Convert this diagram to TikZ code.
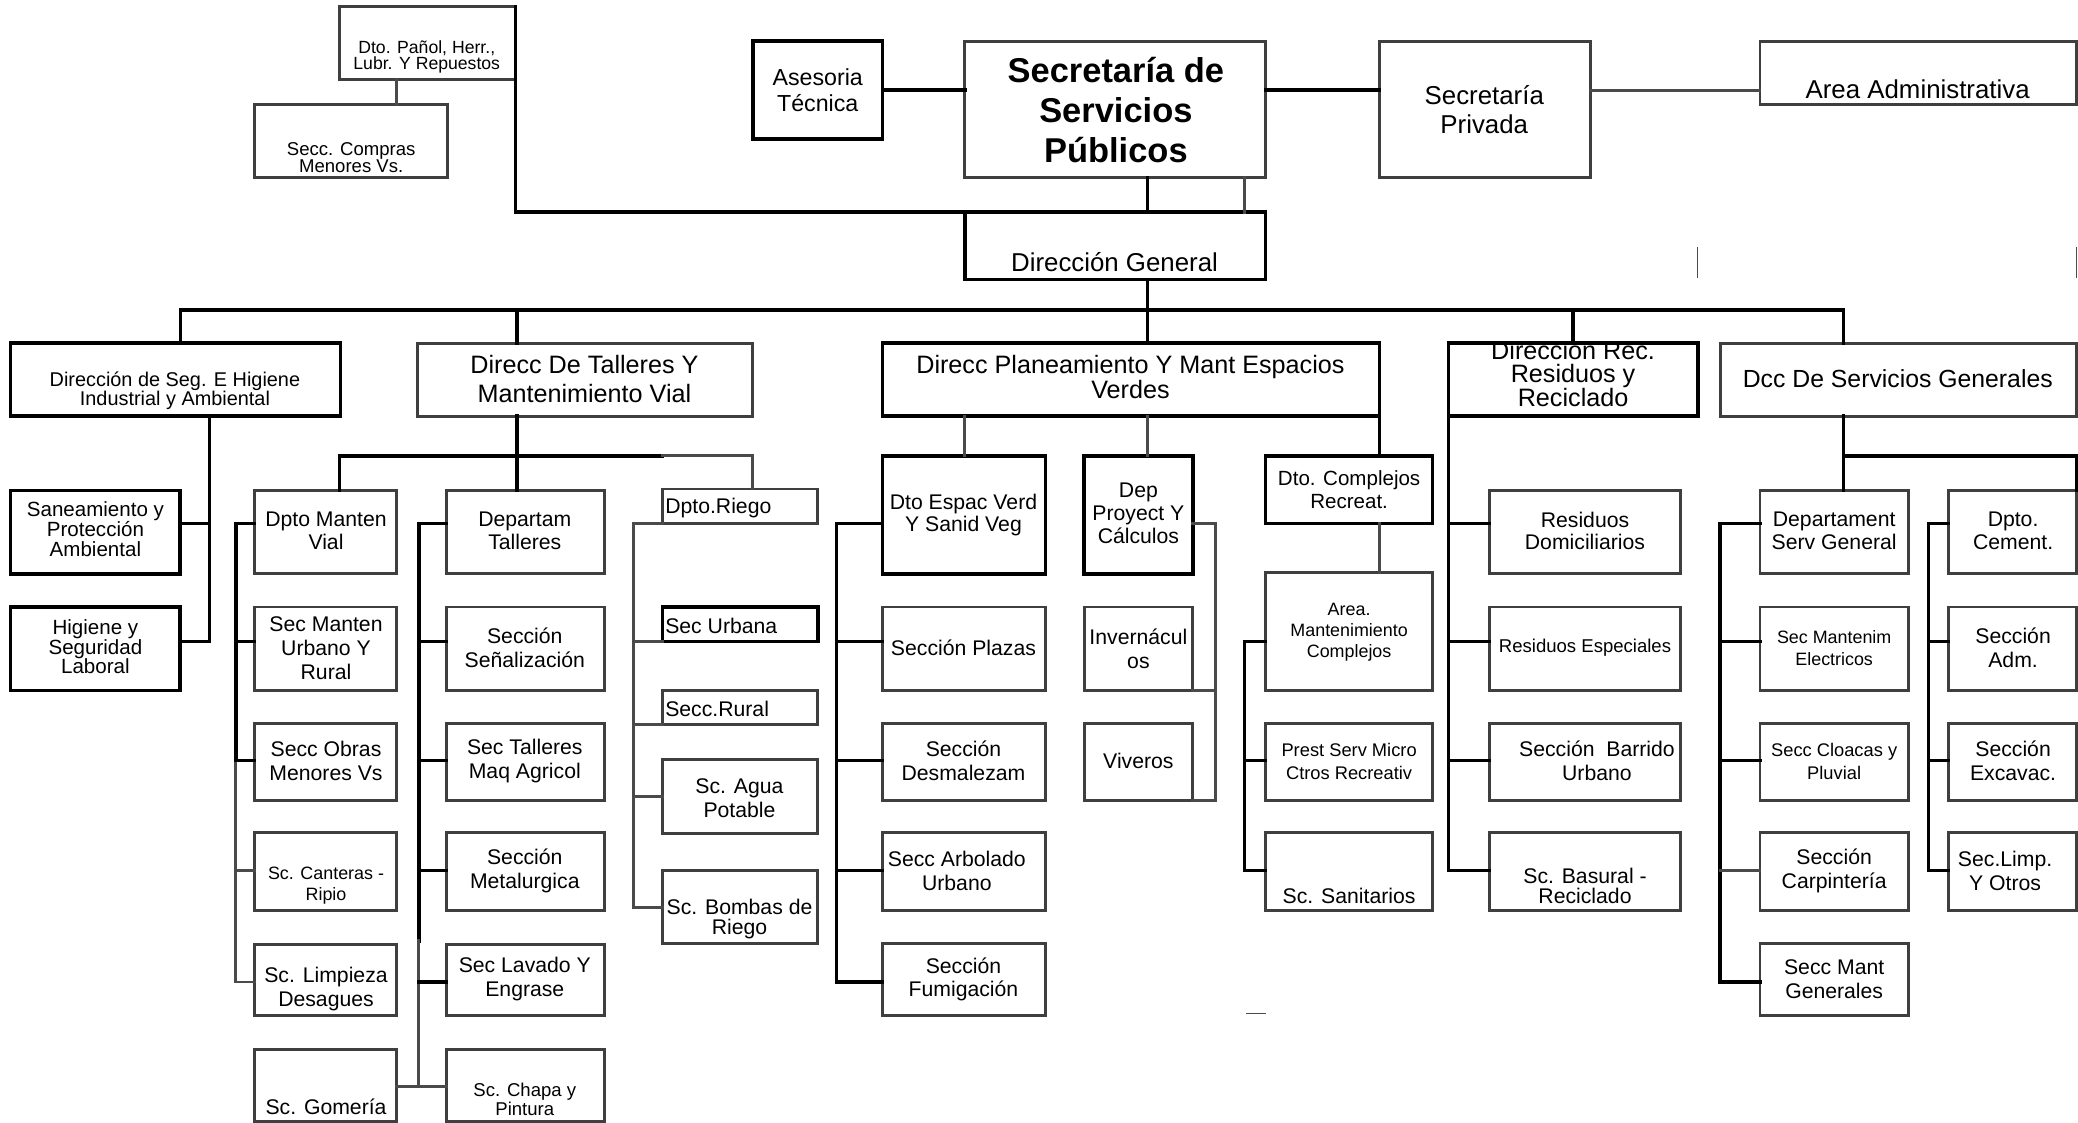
\documentclass[tikz,border=0pt]{standalone}
\usepackage{fontspec}
\setmainfont{Liberation Sans}
\definecolor{boxgray}{HTML}{3F3F3F}
\definecolor{lngray}{HTML}{4A4A4A}
\tikzset{
 box/.style={draw=boxgray,line width=2.2pt,inner sep=0pt,outer sep=0pt},
 bbox/.style={draw=black,line width=2.8pt,inner sep=0pt,outer sep=0pt},
 conn/.style={draw=black,line width=2.6pt,line cap=rect},
 conng/.style={draw=lngray,line width=2.2pt,line cap=rect},
 stray/.style={draw=lngray,line width=0.9pt},
 lbl/.style={inner sep=0pt,outer sep=0pt,align=center},
}
\newcommand\bx[6][box]{\node[#1,minimum width={(#5)-(#3)},minimum height={(#6)-(#4)}] (#2) at ({((#3)+(#5))/2},{((#4)+(#6))/2}) {};}
\newcommand\tx[6]{\node[lbl,font=\fontsize{#4}{#5}\selectfont] (#1) at (#2,#3) {#6};}
\newcommand\txl[5]{\node[lbl,anchor=west,font=\fontsize{#4}{#4}\selectfont] (#1) at (#2,#3) {#5};}
\begin{document}
\begin{tikzpicture}[x=1pt,y=-1pt,line join=miter]
\useasboundingbox (0,0) rectangle (1568,847);
\fill[white] (0,0) rectangle (1568,847);
% helper coordinates
\foreach \v in {136,158,178,256,299,316,390,478,500,568,631,728,866,917,939,1041,1093,1187,1298,1391,1455}{\coordinate (X\v) at (\v,0);}
\coordinate (YBUS) at (0,234);
\coordinate (YB2) at (0,344);
\coordinate (RA) at (0,395);
\coordinate (RB) at (0,484);
\coordinate (RC) at (0,574);
\coordinate (RD) at (0,657);
\coordinate (RE) at (0,741);
\coordinate (RG) at (0,820);
\coordinate (R710) at (0,710);
% ---------- boxes ----------
\bx{pan}{256}{5}{389}{60}
\bx{comp}{192}{79}{338}{134}
\bx[bbox]{ase}{568}{31}{666}{105}
\bx{sec}{728}{31}{955}{134}
\bx{priv}{1041}{31}{1200}{134}
\bx{adm}{1328}{31}{1567}{79}
\bx[bbox]{dirgen}{728}{160}{955}{211}
\bx[bbox]{seg}{8}{259}{257}{314}
\bx{tal}{315}{259}{568}{314}
\bx[bbox]{plan}{666}{259}{1041}{314}
\bx[bbox]{rec}{1093}{259}{1281}{314}
\bx{dcc}{1298}{259}{1567}{314}
\bx[bbox]{san}{8}{370}{136}{433}
\bx[bbox]{hig}{8}{458}{136}{521}
% col1
\bx{c1a}{192}{370}{299}{433}
\bx{c1b}{192}{458}{299}{521}
\bx{c1c}{192}{546}{299}{604}
\bx{c1d}{192}{628}{299}{687}
\bx{c1e}{192}{713}{299}{766}
\bx{c1f}{192}{792}{299}{846}
% col2
\bx{c2a}{337}{370}{456}{433}
\bx{c2b}{337}{458}{456}{521}
\bx{c2c}{337}{546}{456}{604}
\bx{c2d}{337}{628}{456}{687}
\bx{c2e}{337}{713}{456}{766}
\bx{c2f}{337}{792}{456}{846}
% riego
\bx{r1}{500}{369}{617}{395}
\bx[bbox]{r2}{500}{458}{617}{484}
\bx{r3}{500}{521}{617}{547}
\bx{r4}{500}{573}{617}{629}
\bx{r5}{500}{657}{617}{712}
% col4
\bx[bbox]{v1}{666}{344}{789}{433}
\bx{v2}{666}{458}{789}{521}
\bx{v3}{666}{546}{789}{604}
\bx{v4}{666}{628}{789}{687}
\bx{v5}{666}{712}{789}{766}
% col5
\bx[bbox]{p1}{818}{344}{900}{433}
\bx{p2}{818}{458}{900}{521}
\bx{p3}{818}{546}{900}{604}
% col6
\bx[bbox]{k1}{955}{344}{1081}{395}
\bx{k2}{955}{432}{1081}{521}
\bx{k3}{955}{546}{1081}{604}
\bx{k4}{955}{628}{1081}{687}
% col7
\bx{w1}{1124}{370}{1268}{433}
\bx{w2}{1124}{458}{1268}{521}
\bx{w3}{1124}{546}{1268}{604}
\bx{w4}{1124}{628}{1268}{687}
% col8a
\bx{g1}{1328}{370}{1440}{433}
\bx{g2}{1328}{458}{1440}{521}
\bx{g3}{1328}{546}{1440}{604}
\bx{g4}{1328}{628}{1440}{687}
\bx{g5}{1328}{712}{1440}{766}
% col8b
\bx{h1}{1470}{370}{1567}{433}
\bx{h2}{1470}{458}{1567}{521}
\bx{h3}{1470}{546}{1567}{604}
\bx{h4}{1470}{628}{1567}{687}
% ---------- connectors ----------
\draw[conn] (ase.east) -- (ase.east -| sec.west);
\draw[conn] (sec.east |- ase.east) -- (priv.west |- ase.east);
\draw[conng] (priv.east |- ase.east) -- (adm.west |- ase.east);
\draw[conn] (sec.south -| X866) -- (dirgen.north -| X866);
\draw[conng] (sec.south -| X939) -- (dirgen.north -| X939);
\draw[conn] (pan.north east) -- (pan.north east |- dirgen.north) -- (dirgen.north west);
\draw[conng] (pan.south -| X299) -- (comp.north -| X299);
\draw[conn] (dirgen.south -| X866) -- (plan.north -| X866);
\draw[conn] (seg.north -| X136) -- (X136 |- YBUS) -- (X1391 |- YBUS) -- (dcc.north -| X1391);
\draw[conn] (tal.north -| X390) -- (X390 |- YBUS);
\draw[conn] (rec.north -| X1187) -- (X1187 |- YBUS);
% seg
\draw[conn] (seg.south -| X158) -- (X158 |- RB) -- (hig.east |- RB);
\draw[conn] (san.east |- RA) -- (X158 |- RA);
% talleres
\draw[conn] (tal.south -| X390) -- (c2a.north -| X390);
\draw[conn] (c1a.north -| X256) -- (X256 |- YB2) -- (X500 |- YB2);
\draw[conng] (X500 |- YB2) -- (X568 |- YB2) -- (r1.north -| X568);
% col1
\draw[conn] (c1a.west |- RA) -- (X178 |- RA) -- (X178 |- RC);
\draw[conng] (X178 |- RC) -- (X178 |- RE) -- (c1e.west |- RE);
\draw[conn] (c1b.west |- RB) -- (X178 |- RB);
\draw[conn] (c1c.west |- RC) -- (X178 |- RC);
\draw[conng] (c1d.west |- RD) -- (X178 |- RD);
% col2
\draw[conn] (c2a.west |- RA) -- (X316 |- RA) -- (X316 |- R710);
\draw[conng] (X316 |- R710) -- (X316 |- RG);
\draw[conng] (c1f.east |- RG) -- (c2f.west |- RG);
\draw[conn] (c2b.west |- RB) -- (X316 |- RB);
\draw[conn] (c2c.west |- RC) -- (X316 |- RC);
\draw[conn] (c2d.west |- RD) -- (X316 |- RD);
\draw[conn] (c2e.west |- RE) -- (X316 |- RE);
% riego
\draw[conng] (r1.south west) -- (r1.south west -| X478) -- (X478 |- r5.west) -- (r5.west);
\draw[conng] (r2.south west) -- (r2.south west -| X478);
\draw[conng] (r3.south west) -- (r3.south west -| X478);
\draw[conng] (r4.west) -- (r4.west -| X478);
% col4
\draw[conng] (plan.south -| X728) -- (v1.north -| X728);
\draw[conn] (v1.west |- RA) -- (X631 |- RA) -- (X631 |- RE) -- (v5.west |- RE);
\draw[conn] (v2.west |- RB) -- (X631 |- RB);
\draw[conn] (v3.west |- RC) -- (X631 |- RC);
\draw[conn] (v4.west |- RD) -- (X631 |- RD);
% col5
\draw[conng] (plan.south -| X866) -- (p1.north -| X866);
\draw[conng] (p1.east |- RA) -- (X917 |- RA) -- (X917 |- p3.south) -- (p3.south east);
\draw[conng] (p2.south east) -- (p2.south east -| X917);
% col6
\draw[conn] (plan.south east) -- (plan.south east |- k1.north);
\draw[conng] (k1.south -| X1041) -- (k2.north -| X1041);
\draw[conn] (k2.west |- RB) -- (X939 |- RB) -- (X939 |- RD) -- (k4.west |- RD);
\draw[conn] (k3.west |- RC) -- (X939 |- RC);
% col7
\draw[conn] (rec.south west) -- (rec.south west |- RD) -- (w4.west |- RD);
\draw[conn] (w1.west |- RA) -- (X1093 |- RA);
\draw[conn] (w2.west |- RB) -- (X1093 |- RB);
\draw[conn] (w3.west |- RC) -- (X1093 |- RC);
% col8
\draw[conn] (dcc.south -| X1391) -- (g1.north -| X1391);
\draw[conn] (X1391 |- YB2) -- (h1.north east |- YB2) -- (h1.north east);
\draw[conn] (g1.west |- RA) -- (X1298 |- RA) -- (X1298 |- RE) -- (g5.west |- RE);
\draw[conn] (g2.west |- RB) -- (X1298 |- RB);
\draw[conn] (g3.west |- RC) -- (X1298 |- RC);
\draw[conng] (g4.west |- RD) -- (X1298 |- RD);
\draw[conn] (h1.west |- RA) -- (X1455 |- RA) -- (X1455 |- RD) -- (h4.west |- RD);
\draw[conn] (h2.west |- RB) -- (X1455 |- RB);
\draw[conn] (h3.west |- RC) -- (X1455 |- RC);
% stray marks
\coordinate (s1a) at (1281,186); \coordinate (s1b) at (1281,210);
\coordinate (s2a) at (1567,186); \coordinate (s2b) at (1567,210);
\coordinate (s3a) at (940,765); \coordinate (s3b) at (955,765);
\draw[stray] (s1a) -- (s1b);
\draw[stray] (s2a) -- (s2b);
\draw[stray] (s3a) -- (s3b);
% ---------- texts ----------
\tx{pan-t}{322}{43}{13.3}{12}{Dto. Pañol, Herr.,\\Lubr. Y Repuestos}
\tx{comp-t}{265}{119}{14}{13}{Secc. Compras\\Menores Vs.}
\tx{ase-t}{617}{68}{17.5}{20}{Asesoria\\Técnica}
\node[lbl,font=\fontsize{26}{30}\selectfont\bfseries] (sec-t) at (842,83) {Secretaría de\\Servicios\\Públicos};
\tx{priv-t}{1120}{83}{19.5}{22}{Secretaría\\Privada}
\tx{adm-t}{1447}{67}{19.5}{20}{Area Administrativa}
\tx{dirgen-t}{841}{198}{19.5}{20}{Dirección General}
\tx{seg-t}{132}{295}{15}{14}{Dirección de Seg. E Higiene\\Industrial y Ambiental}
\tx{tal-t}{441}{286}{19}{22}{Direcc De Talleres Y\\Mantenimiento Vial}
\tx{plan-t}{853}{284.5}{19}{19}{Direcc Planeamiento Y Mant Espacios\\Verdes}
\begin{scope}
\clip (rec.north west) rectangle (rec.south east);
\tx{rec-t}{1187}{282}{19}{18}{Dirección Rec.\\Residuos y\\Reciclado}
\end{scope}
\tx{dcc-t}{1432}{286}{18.7}{20}{Dcc De Servicios Generales}
\tx{san-t}{72}{399}{15.5}{14.5}{Saneamiento y\\Protección\\Ambiental}
\tx{hig-t}{72}{488}{15.5}{14.5}{Higiene y\\Seguridad\\Laboral}
% col1
\tx{c1a-t}{246}{400.5}{16}{17}{Dpto Manten\\Vial}
\tx{c1b-t}{246}{489}{16}{18}{Sec Manten\\Urbano Y\\Rural}
\tx{c1c-t}{246}{574}{16}{18}{Secc Obras\\Menores Vs}
\tx{c1d-t}{246}{668}{13.5}{16}{Sc. Canteras -\\Ripio}
\tx{c1e-t}{246}{746}{16}{18}{Sc. Limpieza\\Desagues}
\tx{c1f-t}{246}{835}{16}{18}{Sc. Gomería}
% col2
\tx{c2a-t}{396}{400.5}{16}{17}{Departam\\Talleres}
\tx{c2b-t}{396}{489}{16}{18}{Sección\\Señalización}
\tx{c2c-t}{396}{574}{16}{18}{Sec Talleres\\Maq Agricol}
\tx{c2d-t}{396}{657}{16}{18}{Sección\\Metalurgica}
\tx{c2e-t}{396}{739}{16}{18}{Sec Lavado Y\\Engrase}
\tx{c2f-t}{396}{829.5}{14}{13}{Sc. Chapa y\\Pintura}
% riego
\txl{r1-t}{502}{383}{16}{Dpto.Riego}
\txl{r2-t}{502}{472}{16}{Sec Urbana}
\txl{r3-t}{502}{535}{16}{Secc.Rural}
\tx{r4-t}{558}{602}{16}{18}{Sc. Agua\\Potable}
\tx{r5-t}{558}{693.5}{16}{15}{Sc. Bombas de\\Riego}
% col4
\tx{v1-t}{727}{388.5}{16}{17}{Dto Espac Verd\\Y Sanid Veg}
\tx{v2-t}{727}{489}{16}{18}{Sección Plazas}
\tx{v3-t}{727}{574}{16}{18}{Sección\\Desmalezam}
\tx{v4-t}{722}{657}{16}{18}{Secc Arbolado\\Urbano}
\tx{v5-t}{727}{739}{16}{18}{Sección\\Fumigación}
% col5
\tx{p1-t}{859}{387.5}{16}{17.5}{Dep\\Proyect Y\\Cálculos}
\tx{p2-t}{859}{489.5}{16}{18}{Invernácul\\os}
\tx{p3-t}{859}{574}{16}{18}{Viveros}
% col6
\tx{k1-t}{1018}{369.5}{15.5}{17}{Dto. Complejos\\Recreat.}
\tx{k2-t}{1018}{477}{13.5}{16}{Area.\\Mantenimiento\\Complejos}
\tx{k3-t}{1018}{574.5}{13.8}{17}{Prest Serv Micro\\Ctros Recreativ}
\tx{k4-t}{1018}{676}{16}{18}{Sc. Sanitarios}
% col7
\tx{w1-t}{1196}{400.5}{16}{17}{Residuos\\Domiciliarios}
\tx{w2-t}{1196}{489}{14}{16}{Residuos Especiales}
\tx{w3-t}{1205}{574}{16}{18}{Sección\ \ Barrido\\Urbano}
\tx{w4-t}{1196}{668.5}{16}{15}{Sc. Basural -\\Reciclado}
% col8a
\tx{g1-t}{1384}{400.5}{16}{17}{Departament\\Serv General}
\tx{g2-t}{1384}{489}{13.5}{16}{Sec Mantenim\\Electricos}
\tx{g3-t}{1384}{574.5}{13.8}{17}{Secc Cloacas y\\Pluvial}
\tx{g4-t}{1384}{657}{16}{18}{Sección\\Carpintería}
\tx{g5-t}{1384}{739}{16}{18}{Secc Mant\\Generales}
% col8b
\tx{h1-t}{1519}{400.5}{16}{17}{Dpto.\\Cement.}
\tx{h2-t}{1519}{489}{16}{18}{Sección\\Adm.}
\tx{h3-t}{1519}{574}{16}{18}{Sección\\Excavac.}
\tx{h4-t}{1513}{657}{16}{18}{Sec.Limp.\\Y Otros}
\end{tikzpicture}
\end{document}
